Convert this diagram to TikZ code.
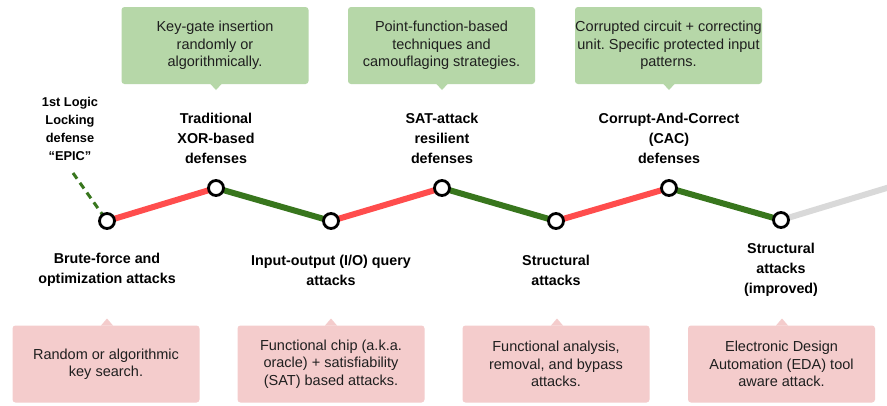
\documentclass[tikz,border=0pt]{standalone}
\usepackage{fontspec}
\setmainfont{Liberation Sans}
\frenchspacing
\definecolor{gboxc}{HTML}{B6D7A8}
\definecolor{rboxc}{HTML}{F4CCCC}
\definecolor{dgreen}{HTML}{38761D}
\definecolor{rline}{HTML}{FF4D4D}
\definecolor{gline}{HTML}{D9D9D9}
\definecolor{txt}{HTML}{1F1F1F}
\tikzset{
  box/.style={rounded corners=3pt, minimum width=187pt, minimum height=77pt, inner sep=0pt, align=center, text=txt, font=\fontsize{14.5pt}{17.5pt}\selectfont},
  gbox/.style={box, fill=gboxc},
  rbox/.style={box, fill=rboxc},
  pt/.style={circle, draw=black, fill=white, line width=2.8pt, minimum size=15pt, inner sep=0pt},
  lbl/.style={align=center, font=\bfseries\fontsize{14.3pt}{20pt}\selectfont, text=black},
  seg/.style={line width=6pt},
}
\begin{document}
\begin{tikzpicture}[x=1pt,y=-1pt]
\useasboundingbox (0,0) rectangle (887,405);
\fill[white] (0,0) rectangle (887,405);
% timeline points
\coordinate (c1) at (107,221);
\coordinate (c2) at (216,188);
\coordinate (c3) at (331,221);
\coordinate (c4) at (442,188);
\coordinate (c5) at (556,221);
\coordinate (c6) at (669,188);
\coordinate (c7) at (781,220);
\coordinate (cend) at (890,187);
\coordinate (epic) at (73,173);
% segments
\draw[dgreen, line width=3pt, dash pattern=on 7pt off 5pt] (epic) -- (c1);
\draw[seg, rline] (c1) -- (c2);
\draw[seg, dgreen] (c2) -- (c3);
\draw[seg, rline] (c3) -- (c4);
\draw[seg, dgreen] (c4) -- (c5);
\draw[seg, rline] (c5) -- (c6);
\draw[seg, dgreen] (c6) -- (c7);
\draw[seg, gline] (c7) -- (cend);
% circles
\foreach \i in {1,...,7} \node[pt] (p\i) at (c\i) {};
% labels
\node[align=center, font=\bfseries\fontsize{12.8pt}{18pt}\selectfont] (lepic) at (70,129) {1st Logic\\Locking\\defense\\“EPIC”};
\node[lbl] (l2) at (216,138) {Traditional\\XOR-based\\defenses};
\node[lbl] (l4) at (442,138) {SAT-attack\\resilient\\defenses};
\node[lbl] (l6) at (669,138) {Corrupt-And-Correct\\(CAC)\\defenses};
\node[lbl] (l1) at (107,270) {Brute-force and\\optimization attacks};
\node[lbl] (l3) at (331,270) {Input-output (I/O) query\\attacks};
\node[lbl] (l5) at (556,270) {Structural\\attacks};
\node[lbl] (l7) at (781,270) {Structural\\attacks\\(improved)};
% green callouts
\node[gbox] (g1) at (215,45.5) {Key-gate insertion\\randomly or\\algorithmically.};
\node[gbox] (g2) at (441.5,45.5) {Point-function-based\\techniques and\\camouflaging strategies.};
\node[gbox] (g3) at (668.5,45.5) {Corrupted circuit + correcting\\unit. Specific protected input\\patterns.};
\fill[gboxc] (216,83.5) ++(-6,0) -- ++(6,6.5) -- ++(6,-6.5) -- cycle;
\fill[gboxc] (442,83.5) ++(-6,0) -- ++(6,6.5) -- ++(6,-6.5) -- cycle;
\fill[gboxc] (669,83.5) ++(-6,0) -- ++(6,6.5) -- ++(6,-6.5) -- cycle;
% red callouts
\node[rbox] (r1) at (106,364) {Random or algorithmic\\key search.};
\node[rbox] (r2) at (331,364) {Functional chip (a.k.a.\\oracle) + satisfiability\\(SAT) based attacks.};
\node[rbox] (r3) at (556,364) {Functional analysis,\\removal, and bypass\\attacks.};
\node[rbox] (r4) at (781.5,364) {Electronic Design\\Automation (EDA) tool\\aware attack.};
\fill[rboxc] (107,325.5) ++(-6,0) -- ++(6,-7) -- ++(6,7) -- cycle;
\fill[rboxc] (331,325.5) ++(-6,0) -- ++(6,-7) -- ++(6,7) -- cycle;
\fill[rboxc] (557,325.5) ++(-6,0) -- ++(6,-7) -- ++(6,7) -- cycle;
\fill[rboxc] (782,325.5) ++(-6,0) -- ++(6,-7) -- ++(6,7) -- cycle;
\end{tikzpicture}
\end{document}
